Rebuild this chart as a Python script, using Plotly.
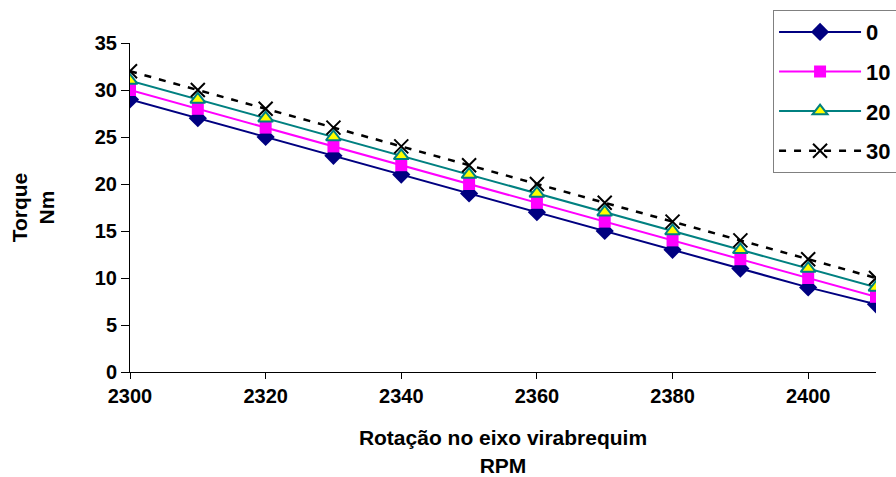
import plotly.graph_objects as go

rpm = [2300, 2310, 2320, 2330, 2340, 2350, 2360, 2370, 2380, 2390, 2400, 2410]
s0 = [29, 27, 25, 23, 21, 19, 17, 15, 13, 11, 9, 7.2]
s10 = [30, 28, 26, 24, 22, 20, 18, 16, 14, 12, 10, 8]
s20 = [31, 29, 27, 25, 23, 21, 19, 17, 15, 13, 11, 9]
s30 = [32, 30, 28, 26, 24, 22, 20, 18, 16, 14, 12, 10]
names = ["0", "10", "20", "30"]

fig = go.Figure()
fig.add_trace(go.Scatter(x=rpm, y=s0, name=names[0], mode="lines+markers", legendgroup="a",
                         line=dict(color="#000080", width=2),
                         marker=dict(symbol="diamond", size=14, color="#000080")))
fig.add_trace(go.Scatter(x=rpm, y=s10, name=names[1], mode="lines+markers", legendgroup="b",
                         line=dict(color="#FF00FF", width=2),
                         marker=dict(symbol="square", size=12, color="#FF00FF")))
fig.add_trace(go.Scatter(x=rpm, y=s20, name=names[2], mode="lines+markers", legendgroup="c",
                         line=dict(color="#008080", width=2),
                         marker=dict(symbol="triangle-up", size=13, color="#FFFF00",
                                     line=dict(color="#008080", width=2))))
fig.add_trace(go.Scatter(x=rpm, y=s30, name=names[3], mode="lines+markers", legendgroup="d",
                         line=dict(color="#000000", width=2.5, dash="7px,8px"),
                         marker=dict(symbol="x-thin-open", size=14, color="#000000",
                                     line=dict(color="#000000", width=2))))

fig.update_layout(
    width=896, height=477,
    paper_bgcolor="white", plot_bgcolor="white",
    margin=dict(l=130, r=20, t=43, b=105, autoexpand=False),
    font=dict(family="Liberation Sans, Arial", size=20, color="black"),
    legend=dict(x=0.862, y=1.1, xanchor="left", yanchor="top",
                bordercolor="#808080", borderwidth=1, bgcolor="white",
                font=dict(size=22, family="Liberation Sans, Arial", color="black", weight="bold"),
                tracegroupgap=8, itemwidth=82),
    showlegend=True,
)
fig.update_xaxes(range=[2300, 2410], tickvals=[2300, 2320, 2340, 2360, 2380, 2400],
                 showline=True, linecolor="black", linewidth=1, ticks="outside", ticklen=6,
                 tickcolor="black", showgrid=False, zeroline=False,
                 tickfont=dict(size=20, weight="bold"),
                 title=dict(text="<b>Rotação no eixo virabrequim<br>RPM</b>",
                            font=dict(size=21, weight="bold"), standoff=24))
fig.update_yaxes(range=[0, 35], dtick=5,
                 showline=True, linecolor="black", linewidth=1, ticks="outside", ticklen=8,
                 tickcolor="black", showgrid=False, zeroline=False,
                 tickfont=dict(size=20, weight="bold"),
                 title=dict(text="<b>Torque<br>Nm</b>", font=dict(size=21, weight="bold"), standoff=34))

fig.write_html("out.html")
